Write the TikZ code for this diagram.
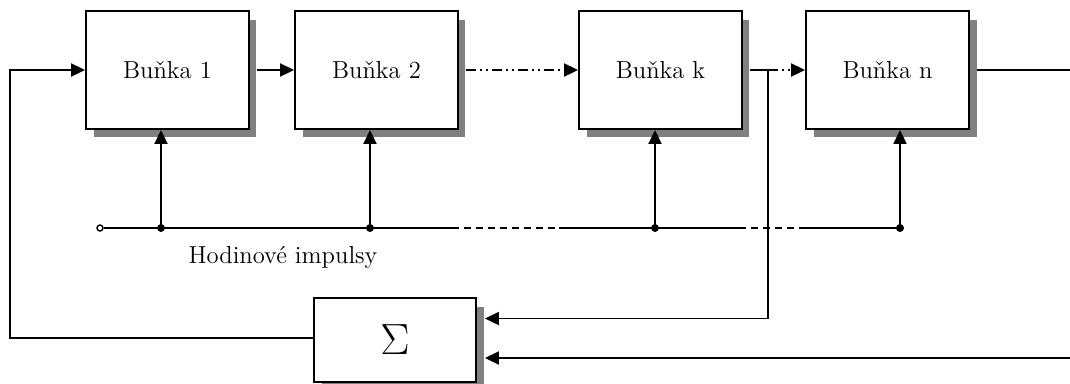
\documentclass[tikz,border=0pt]{standalone}
\usepackage{tikz}
\usetikzlibrary{arrows.meta, shadows, calc}

\begin{document}
\begin{tikzpicture}[
      x=0.02cm, y=-0.02cm,
      cell/.style   = {draw, line width=1.1pt, fill=white, minimum width=3.26cm,
                       minimum height=2.36cm, font=\fontsize{14}{17}\selectfont,
                       drop shadow={shadow xshift=0.15cm, shadow yshift=-0.17cm,
                                    fill=black!50, opacity=1}},
      sumbox/.style = {draw, line width=1.1pt, fill=white, minimum width=3.24cm,
                       minimum height=1.68cm,
                       drop shadow={shadow xshift=0.16cm, shadow yshift=-0.17cm,
                                    fill=black!50, opacity=1}},
      arr/.style    = {-{Triangle[length=0.28cm, width=0.26cm]}, line width=1.1pt},
      wire/.style   = {line width=1.1pt},
      dashdot/.style= {dash pattern=on 0.2cm off 0.08cm on 0.04cm off 0.08cm on 0.04cm off 0.08cm},
      clkdash/.style= {wire, dash pattern=on 0.14cm off 0.1cm},
      fromcell/.style = {shorten <=0.15cm},
      clkin/.style  = {draw, circle, line width=0.8pt, fill=white, inner sep=0pt,
                       minimum size=0.12cm},
      lbl/.style    = {font=\fontsize{14}{17}\selectfont},
    ]
    \useasboundingbox (0,0) rectangle (1070,383);

    \node[cell] (b1) at (167.5,70) {Buňka 1};
    \node[cell] (b2) at (376.5,70) {Buňka 2};
    \node[cell] (bk) at (660.5,70) {Buňka k};
    \node[cell] (bn) at (887.5,70) {Buňka n};
    \node[sumbox] (sum) at (395,340) {\Huge$\Sigma$};

    % chain of cells
    \coordinate (tap)  at (768,70);
    \coordinate (outR) at (1070,70);
    \draw[arr, fromcell] (b1) -- (b2);
    \draw[arr, fromcell, dashdot] (b2) -- (bk);
    \draw[wire, fromcell] (bk) -- (tap);
    \draw[arr, dashdot] (tap) -- (bn);
    \draw[wire, fromcell] (bn) -- (outR);

    % clock line
    \coordinate (j1) at (161,228);
    \coordinate (j2) at (370,228);
    \coordinate (jk) at (655,228);
    \coordinate (jn) at (900,228);
    \coordinate (d1) at (452,228);
    \coordinate (d2) at (559,228);
    \coordinate (d3) at (739,228);
    \coordinate (d4) at (802,228);
    \node[clkin] (clk) at (100,228) {};
    \draw[wire] (clk) -- (d1);
    \draw[clkdash] (d1) -- (d2);
    \draw[wire] (d2) -- (d3);
    \draw[clkdash] (d3) -- (d4);
    \draw[wire] (d4) -- (jn);
    \foreach \j/\b in {j1/b1, j2/b2, jk/bk, jn/bn}
      \draw[arr] (\j) -- (\j |- \b.south);
    \foreach \j in {j1, j2, jk, jn}
      \fill (\j) circle (0.08cm);
    \node[lbl] (hod) at (283,257) {Hodinové impulsy};

    % feedback through the sum
    \coordinate (inR) at (1070,358);
    \coordinate (fbL) at (10,338);
    \draw[arr, shorten >=0.16cm] (tap) |- ($(sum.north east)!0.25!(sum.south east)$);
    \draw[arr, shorten >=0.16cm] (inR) -- (inR -| sum.east);
    \draw[arr] (sum.west |- fbL) -- (fbL) |- (b1.west);

  \end{tikzpicture}
\end{document}
